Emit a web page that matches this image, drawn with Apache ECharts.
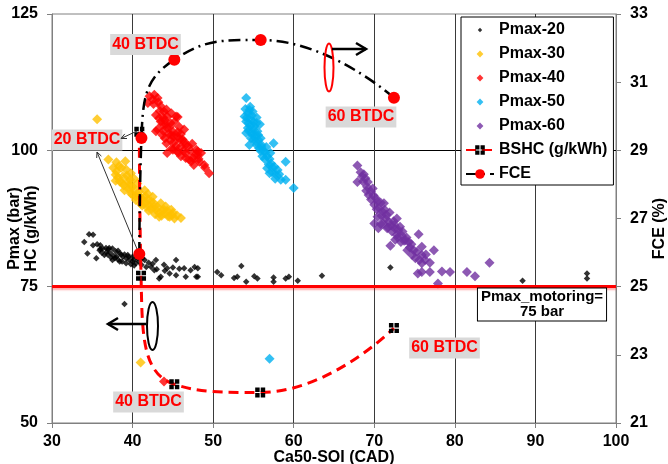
<!DOCTYPE html>
<html><head><meta charset="utf-8">
<script src="https://cdn.jsdelivr.net/npm/echarts@6/dist/echarts.min.js"></script>
<style>html,body{margin:0;padding:0;background:#fff}#c{width:668px;height:464px}</style>
</head><body><div id="c"></div>
<script>
// ---------- data ----------
const xTicks = [30, 40, 50, 60, 70, 80, 90, 100];
const leftTicks = [50, 75, 100, 125];
const rightTicks = [21, 23, 25, 27, 29, 31, 33];

const pmax20 = [[34.0,83.2],[34.6,84.6],[35.1,84.5],[35.1,82.6],[34.4,81.1],[35.5,80.2],[35.9,81.7],[36.3,82.0],[36.7,82.1],[37.1,82.1],[37.5,82.0],[36.5,80.8],[37.3,81.1],[37.5,79.9],[38.0,80.5],[38.4,81.1],[38.4,79.6],[38.8,80.5],[39.2,80.2],[39.2,79.3],[39.6,79.9],[40.0,79.6],[40.0,80.5],[40.4,79.3],[40.8,79.6],[37.9,81.5],[38.6,80.9],[39.4,80.8],[36.8,81.4],[37.7,80.6],
  [35.6,82.8],[36.0,82.6],[36.2,81.2],[36.9,80.9],[37.0,81.8],[37.3,80.4],[37.8,80.2],[38.2,81.6],[38.2,80.0],[38.7,79.6],[39.0,80.9],[39.5,80.5],[39.8,79.1],[40.2,80.0],[40.6,80.2],[40.2,78.9],[41.1,79.0],[36.0,81.9],[41.2,80.2],[42.5,79.2],
  [41.5,79.9],[41.7,78.6],[42.3,78.6],[42.9,79.9],[42.7,78.0],[43.5,76.8],[43.9,79.0],[44.3,78.4],[44.6,77.4],[45.4,79.9],[45.4,77.1],[46.4,78.4],[46.6,76.8],[47.7,78.6],[48.1,78.4],[48.1,76.8],[42.0,79.4],[43.0,78.2],[44.0,77.9],[45.0,78.5],[47.2,78.0],[43.3,76.5],[45.8,78.3],[47.9,76.8],[50.5,77.7],[51.0,77.1],[53.5,78.8],[52.6,76.6],[53.0,76.8],[54.1,75.9],[55.1,76.9],[55.5,76.5],[57.5,76.7],[57.5,75.9],[59.0,76.5],[59.4,76.8],[60.5,76.1],[63.5,77.0],[72.0,78.5],[88.4,76.1],[96.4,77.4],[96.4,76.5],[39.0,71.8]];
const pmax30 = [[35.6,105.7],[37.0,98.3],[38.0,97.8],[39.1,98.0],[38.0,96.1],[38.8,95.2],[38.4,94.3],[39.4,94.3],[39.0,92.7],[39.8,95.8],[40.0,93.3],[39.8,92.1],[40.4,91.5],[40.8,92.4],[41.1,91.2],[41.5,92.7],[41.3,90.9],[41.9,90.9],[41.7,89.7],[42.5,91.5],[42.3,90.6],[42.7,89.7],[42.9,89.1],[43.5,90.3],[43.3,88.5],[43.3,87.8],[43.9,89.1],[44.1,89.7],[44.6,87.8],[44.8,89.1],[45.0,88.5],[45.2,87.5],[46.0,87.6],[38.6,96.8],[39.2,96.5],[40.2,94.8],[40.6,93.9],[39.6,93.6],[41.2,89.9],[42.0,88.9],[44.0,88.4],[42.8,88.3],[38.2,95.0],
  [37.6,96.8],[38.3,97.1],[37.9,95.5],[38.7,94.0],[39.3,95.4],[38.9,93.6],[39.5,92.9],[40.2,92.7],[40.8,91.7],[40.4,90.9],[41.6,91.6],[41.0,90.2],[41.6,90.4],[42.1,89.8],[42.3,89.2],[42.6,90.4],[43.1,89.6],[43.7,88.9],[43.6,88.0],[44.3,88.9],[44.4,87.9],[44.9,88.1],[45.5,88.1],[40.0,91.8],[39.7,94.6],[37.9,94.4],[41.9,92.0],
  [41.0,61.1]];
const pmax40 = [[42.1,109.9],[42.7,110.2],[42.5,109.3],[43.1,109.6],[41.9,108.7],[43.5,108.1],[42.9,106.5],[43.3,105.9],[43.9,107.1],[44.3,106.2],[45.4,106.2],[45.6,106.1],[43.7,104.7],[43.1,103.8],[44.3,104.1],[44.8,102.8],[43.7,102.8],[42.9,103.5],[45.2,101.6],[45.6,102.5],[46.4,103.8],[44.2,101.3],[44.3,99.5],[45.0,100.1],[46.0,100.7],[46.6,101.0],[46.0,98.9],[46.6,99.5],[47.0,98.3],[47.9,100.1],[48.1,99.2],[48.5,99.5],[48.3,97.9],[49.5,95.8],[48.1,99.8],[44.7,105.0],[45.0,103.4],[44.0,105.5],[45.8,104.3],[46.2,102.0],[47.2,99.9],[47.5,98.6],[45.5,99.8],
  [43.4,107.2],[43.8,106.0],[44.2,107.5],[44.8,106.8],[43.5,105.3],[44.1,104.8],[44.6,104.3],[45.2,105.2],[43.8,103.6],[44.5,103.0],[45.1,102.6],[45.6,103.3],[46.0,103.0],[44.0,102.2],[44.7,101.8],[45.4,100.8],[45.9,102.0],[46.4,101.6],[44.9,100.4],[45.7,99.6],[46.3,99.9],[46.9,100.8],[47.4,101.2],[46.6,98.6],[47.3,98.0],[47.8,99.2],[48.2,98.4],[48.9,97.3],[47.6,97.3],[49.0,96.8],[42.6,108.5],[43.2,108.8],
  [43.9,57.6]];
const pmax50 = [[54.1,109.6],[54.3,106.8],[54.9,107.1],[53.9,106.2],[54.1,105.3],[54.7,105.6],[54.3,104.1],[55.1,104.4],[54.1,103.2],[54.9,102.8],[55.5,103.5],[54.5,101.0],[55.3,101.6],[55.9,102.2],[57.5,101.3],[55.7,100.4],[56.3,99.8],[56.1,98.9],[56.7,98.9],[57.2,97.6],[56.7,96.7],[57.6,97.0],[59.0,97.9],[57.0,95.8],[57.8,95.5],[59.0,94.6],[60.0,93.1],[54.6,108.0],[55.4,106.0],[55.8,104.8],[54.7,102.2],[56.0,101.0],[56.6,100.6],[57.1,99.5],[55.6,102.8],
  [54.0,107.6],[54.5,107.4],[54.2,106.0],[54.8,106.4],[54.4,105.0],[55.0,105.2],[54.6,104.4],[55.4,105.0],[54.4,103.6],[55.0,103.8],[54.8,103.2],[55.3,102.8],[55.0,102.0],[55.6,101.9],[55.4,101.0],[56.0,100.6],[55.9,99.9],[56.5,99.6],[56.4,98.4],[57.0,98.4],[56.9,97.4],[57.4,96.8],[57.3,96.0],[58.0,96.4],[57.7,94.8],[58.2,95.6],[58.4,94.6],
  [57.0,61.8]];
const pmax60 = [[67.9,97.2],[68.5,95.2],[68.9,94.9],[67.9,94.2],[69.1,93.3],[69.8,93.0],[69.3,91.8],[70.2,91.2],[70.0,90.0],[70.6,89.4],[71.0,88.8],[70.4,87.8],[70.0,86.6],[70.5,85.7],[71.4,87.5],[71.8,86.9],[72.8,87.5],[71.6,85.7],[72.2,85.1],[72.8,84.5],[73.5,85.1],[72.0,82.5],[73.3,83.2],[73.9,83.5],[75.5,84.6],[74.1,81.7],[74.7,80.8],[75.1,80.2],[75.9,80.8],[75.9,82.3],[77.4,81.7],[75.9,79.3],[76.9,79.4],[75.4,77.4],[75.9,77.7],[76.9,77.7],[78.4,77.8],[79.4,77.7],[77.9,75.6],[81.5,77.7],[82.5,76.9],[84.3,79.4],[71.2,90.3],[71.9,88.6],[72.5,86.3],[73.2,86.0],[74.0,84.0],[74.6,82.8],[69.6,91.0],[70.8,86.5],
  [68.3,96.0],[68.7,95.6],[68.6,94.3],[69.2,94.2],[69.0,92.6],[69.6,92.4],[69.9,91.7],[70.4,90.6],[70.8,90.4],[70.3,89.2],[70.9,88.0],[71.3,89.1],[71.5,88.2],[71.1,86.6],[71.7,85.9],[72.1,86.2],[72.4,87.0],[72.6,85.6],[72.9,84.0],[73.4,84.4],[73.0,85.4],[73.7,83.4],[74.3,83.2],[74.4,82.2],[74.9,81.7],[75.3,81.4],[75.6,79.9],[76.3,79.9],[76.4,80.9],[72.6,83.6]];
const bshc = [[40.84,103.4],[41.05,77.0],[45.18,57.1],[55.84,55.6],[72.44,67.4]];
const fce = [[40.84,25.96],[41.1,29.36],[45.18,31.66],[55.9,32.24],[72.44,30.54]];
const motoringLevel = 75;

// ---------- chart ----------
const FONT = '"Liberation Sans", Arial, sans-serif';
const tickLabel = {color:'#000', fontFamily:FONT, fontWeight:'bold', fontSize:16};
const nameStyle = {color:'#000', fontFamily:FONT, fontWeight:'bold', fontSize:16};
const GRAY = '#808080';
const squareSym = 'path://M0,0H4V4H0Z M5,0H9V4H5Z M0,5H4V9H0Z M5,5H9V9H5Z';
const smallDia = 'path://M0,0M12,12M6,3.8L8.2,6L6,8.2L3.8,6Z';
const midDia = 'path://M0,0M12,12M6,2.6L9.4,6L6,9.4L2.6,6Z';

const chart = echarts.init(document.getElementById('c'), null, {renderer:'canvas'});

function annoText(text, cx, cy) {
  return {type:'text', x:cx, y:cy, z:100,
    style:{text:text, fill:'#ff0000', font:'bold 16px ' + FONT, backgroundColor:'#d9d9d9',
      padding:[3,2,2,2], align:'center', verticalAlign:'middle'}};
}

const option = {
  animation:false,
  backgroundColor:'#fff',
  grid:{left:52, right:52, top:14, bottom:41, show:true, borderColor:GRAY, borderWidth:1, outerBoundsMode:'none', containLabel:false},
  legend:{
    orient:'vertical', left:461, top:17, padding:[5,6,3,4], itemGap:8,
    itemWidth:28, itemHeight:12, backgroundColor:'#fff', borderColor:'#000', borderWidth:1, borderRadius:0,
    textStyle:{color:'#000', fontFamily:FONT, fontWeight:'bold', fontSize:16},
    data:[{name:'Pmax-20', icon:smallDia},{name:'Pmax-30', icon:midDia},{name:'Pmax-40', icon:midDia},
          {name:'Pmax-50', icon:midDia},{name:'Pmax-60', icon:midDia},'BSHC (g/kWh)','FCE']
  },
  xAxis:{type:'value', min:xTicks[0], max:xTicks[xTicks.length-1], interval:10,
    axisLine:{show:true, lineStyle:{color:GRAY}}, axisTick:{show:true, inside:false, length:5, lineStyle:{color:GRAY}},
    axisLabel:{...tickLabel, margin:11, customValues:xTicks},
    splitLine:{show:true, showMinLine:false, showMaxLine:false, lineStyle:{color:'#3a3a3a', width:1}},
    name:'Ca50-SOI (CAD)', nameLocation:'middle', nameGap:27, nameTextStyle:nameStyle, nameMoveOverlap:false},
  yAxis:[
    {type:'value', min:leftTicks[0], max:leftTicks[leftTicks.length-1], interval:25, position:'left',
      axisLine:{show:true, lineStyle:{color:GRAY}}, axisTick:{show:true, inside:false, length:5, lineStyle:{color:GRAY}},
      axisLabel:{...tickLabel, margin:14},
      splitLine:{show:true, showMinLine:false, showMaxLine:false, lineStyle:{color:'#000', width:1}},
      name:'Pmax (bar)\nHC (g/kWh)', nameLocation:'middle', nameRotate:90, nameGap:12, nameMoveOverlap:false,
      nameTextStyle:{...nameStyle, lineHeight:17, padding:[0,20,0,0]}},
    {type:'value', min:rightTicks[0], max:rightTicks[rightTicks.length-1], position:'right',
      axisLine:{show:true, lineStyle:{color:GRAY}},
      axisTick:{show:true, inside:false, length:5, lineStyle:{color:GRAY}, customValues:rightTicks},
      axisLabel:{...tickLabel, margin:14, customValues:rightTicks},
      splitLine:{show:false},
      name:'FCE (%)', nameLocation:'middle', nameRotate:90, nameGap:36, nameMoveOverlap:false,
      nameTextStyle:{...nameStyle, padding:[0,20,0,0]}}
  ],
  series:[
    {name:'Pmax-20', type:'scatter', data:pmax20, symbol:'diamond', symbolSize:6.5, itemStyle:{color:'#000'}, z:2,
      markLine:{silent:true, symbol:['none','none'], label:{show:false},
        lineStyle:{color:'#ff0000', width:3, type:'solid', shadowColor:'rgba(255,0,0,0.35)', shadowBlur:2, shadowOffsetY:2},
        data:[{yAxis:motoringLevel}]}},
    {name:'Pmax-30', type:'scatter', data:pmax30, symbol:'diamond', symbolSize:10, itemStyle:{color:'#FFC000'}, z:2},
    {name:'Pmax-40', type:'scatter', data:pmax40, symbol:'diamond', symbolSize:10, itemStyle:{color:'#FF0000'}, z:2},
    {name:'Pmax-50', type:'scatter', data:pmax50, symbol:'diamond', symbolSize:10, itemStyle:{color:'#00B0F0'}, z:2},
    {name:'Pmax-60', type:'scatter', data:pmax60, symbol:'diamond', symbolSize:10, itemStyle:{color:'#7030A0'}, z:2},
    {name:'BSHC (g/kWh)', type:'line', yAxisIndex:0, data:bshc, smooth:0.5, symbol:squareSym, symbolSize:10,
      showAllSymbol:true, itemStyle:{color:'#000'}, lineStyle:{color:'#ff0000', width:3, type:[10,6]}, z:4},
    {name:'FCE', type:'line', yAxisIndex:1, data:fce, smooth:0.5, symbol:'circle', symbolSize:12,
      showAllSymbol:true, itemStyle:{color:'#ff0000'}, lineStyle:{color:'#000', width:2.5, type:[12,5,2,5]}, z:5}
  ],
  graphic:[
    annoText('40 BTDC', 145.5, 44.5),
    annoText('60 BTDC', 361, 117),
    annoText('20 BTDC', 87, 140),
    annoText('40 BTDC', 148.5, 402),
    annoText('60 BTDC', 444.5, 348),
    {type:'text', x:542, y:304.6, z:100,
      style:{text:'Pmax_motoring=\n75 bar', fill:'#000', font:'bold 15px ' + FONT, lineHeight:15,
        backgroundColor:'#fff', borderColor:'#000', borderWidth:1, padding:[1,3,1,3], align:'center', verticalAlign:'middle'}},
    {type:'ellipse', z:100, shape:{cx:329, cy:67.5, rx:4.5, ry:24}, style:{fill:'none', stroke:'#ff0000', lineWidth:2}},
    {type:'line', z:100, shape:{x1:332, y1:49, x2:366, y2:49}, style:{stroke:'#000', lineWidth:2.5}},
    {type:'polyline', z:100, shape:{points:[[356,43],[366,49],[356,55]]}, style:{fill:'none', stroke:'#000', lineWidth:2.5}},
    {type:'ellipse', z:100, shape:{cx:152.5, cy:326, rx:5.5, ry:24}, style:{fill:'none', stroke:'#000', lineWidth:2}},
    {type:'line', z:100, shape:{x1:146, y1:324, x2:108, y2:324}, style:{stroke:'#000', lineWidth:2.5}},
    {type:'polyline', z:100, shape:{points:[[118,318],[108,324],[118,330]]}, style:{fill:'none', stroke:'#000', lineWidth:2.5}},
    {type:'line', z:100, shape:{x1:137, y1:131, x2:121, y2:138.5}, style:{stroke:'#333', lineWidth:1}},
    {type:'polyline', z:100, shape:{points:[[127,138.5],[121,138.5],[124.8,133.9]]}, style:{fill:'none', stroke:'#333', lineWidth:1}},
    {type:'line', z:100, shape:{x1:137, y1:249, x2:97, y2:152}, style:{stroke:'#333', lineWidth:1}},
    {type:'polyline', z:100, shape:{points:[[96.7,158],[97,152],[101.4,156.1]]}, style:{fill:'none', stroke:'#333', lineWidth:1}}
  ]
};
chart.setOption(option);
</script></body></html>
